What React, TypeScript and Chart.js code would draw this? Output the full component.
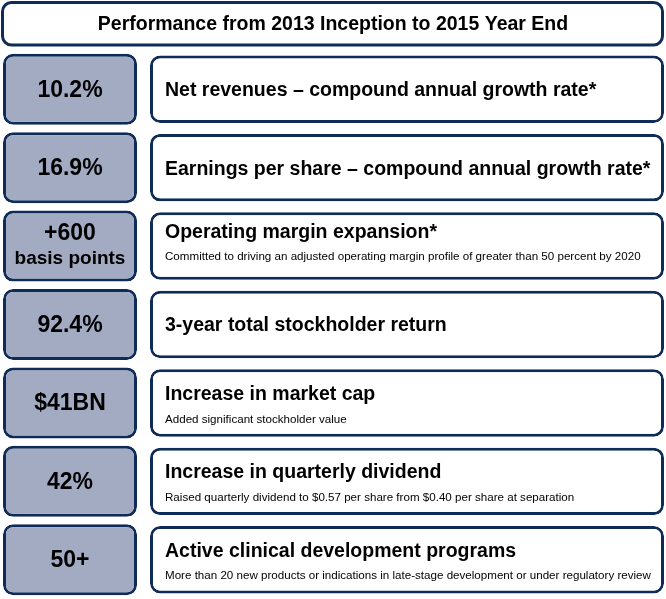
import React, { useEffect, useRef } from 'react';
import { Chart, registerables } from 'chart.js';

Chart.register(...registerables);

const TITLE = 'Performance from 2013 Inception to 2015 Year End';
const METRICS = ['10.2%', '16.9%', '+600', '92.4%', '$41BN', '42%', '50+'];
const METRIC_UNITS = ['', '', 'basis points', '', '', '', ''];
const HEADINGS = [
  'Net revenues – compound annual growth rate*',
  'Earnings per share – compound annual growth rate*',
  'Operating margin expansion*',
  '3-year total stockholder return',
  'Increase in market cap',
  'Increase in quarterly dividend',
  'Active clinical development programs',
];
const DETAILS = [
  '',
  '',
  'Committed to driving an adjusted operating margin profile of greater than 50 percent by 2020',
  '',
  'Added significant stockholder value',
  'Raised quarterly dividend to $0.57 per share from $0.40 per share at separation',
  'More than 20 new products or indications in late-stage development or under regulatory review',
];
// column extents on the (hidden) horizontal axis
const VALUE_COLUMN = [3, 137];
const TEXT_COLUMN = [150, 664];

const FONT = '"Liberation Sans", Arial, Helvetica, sans-serif';
const NAVY = '#0f2c58';
const SLATE = '#a3abc3';

const infoPlugin = {
  id: 'infoText',
  beforeDraw(chart: any) {
    const ctx = chart.ctx;
    ctx.save();
    ctx.fillStyle = '#ffffff';
    ctx.fillRect(0, 0, chart.width, chart.height);
    // title frame
    const xs = chart.scales.x;
    const left = xs.getPixelForValue(1) + 1.5;
    const right = xs.getPixelForValue(664) - 1.5;
    const top = chart.titleBlock.top + 2.5;
    const bottom = chart.chartArea.top - 5;
    ctx.beginPath();
    ctx.roundRect(left, top, right - left, bottom - top, 9);
    ctx.lineWidth = 3;
    ctx.strokeStyle = NAVY;
    ctx.stroke();
    ctx.restore();
  },
  afterDatasetsDraw(chart: any) {
    const ctx = chart.ctx;
    const xs = chart.scales.x;
    const ys = chart.scales.y;
    ctx.save();
    ctx.fillStyle = '#000000';
    ctx.textBaseline = 'middle';
    const vx = (xs.getPixelForValue(VALUE_COLUMN[0]) + xs.getPixelForValue(VALUE_COLUMN[1])) / 2;
    const tx = xs.getPixelForValue(TEXT_COLUMN[0]) + 15;
    METRICS.forEach((m, i) => {
      const cy = ys.getPixelForValue(i);
      ctx.textAlign = 'center';
      if (METRIC_UNITS[i]) {
        ctx.font = `bold 23px ${FONT}`;
        ctx.fillText(m, vx, cy - 12.5);
        ctx.font = `bold 19px ${FONT}`;
        ctx.fillText(METRIC_UNITS[i], vx, cy + 12.5);
      } else {
        ctx.font = `bold 23px ${FONT}`;
        ctx.fillText(m, vx, cy + 1);
      }
      ctx.textAlign = 'left';
      if (DETAILS[i]) {
        const tight = !!METRIC_UNITS[i];
        ctx.font = `bold 19.5px ${FONT}`;
        ctx.fillText(HEADINGS[i], tx, cy + (tight ? -13 : -8.5));
        ctx.font = `11.6px ${FONT}`;
        ctx.fillText(DETAILS[i], tx, cy + (tight ? 11 : 16.5));
      } else {
        ctx.font = `bold 19.5px ${FONT}`;
        ctx.fillText(HEADINGS[i], tx, cy + 1.5);
      }
    });
    ctx.restore();
  },
};

export default function App() {
  const ref = useRef<HTMLCanvasElement | null>(null);
  useEffect(() => {
    if (!ref.current) return;
    const chart = new Chart(ref.current, {
      type: 'bar',
      data: {
        labels: HEADINGS,
        datasets: [
          {
            label: 'Metric',
            data: METRICS.map(() => VALUE_COLUMN as any),
            backgroundColor: SLATE,
            borderColor: NAVY,
            borderWidth: 3,
            borderRadius: 10,
            borderSkipped: false,
            barPercentage: 0.905,
            categoryPercentage: 1,
            grouped: false,
          } as any,
          {
            label: 'Description',
            data: HEADINGS.map(() => TEXT_COLUMN as any),
            backgroundColor: '#ffffff',
            borderColor: NAVY,
            borderWidth: 3,
            borderRadius: 10,
            borderSkipped: false,
            barPercentage: 0.86,
            categoryPercentage: 1,
            grouped: false,
          } as any,
        ],
      },
      options: {
        indexAxis: 'y',
        animation: false,
        responsive: false,
        layout: { padding: 0 },
        scales: {
          x: { type: 'linear', min: 0, max: 666, display: false },
          y: { type: 'category', display: false, offset: true, grid: { display: false } },
        },
        plugins: {
          legend: { display: false },
          tooltip: { enabled: false },
          title: {
            display: true,
            text: TITLE,
            color: '#000000',
            font: { family: FONT, size: 19.5, weight: 'bold', lineHeight: 1.2 },
            padding: { top: 13.3, bottom: 13.3 },
          },
        },
      },
      plugins: [infoPlugin],
    });
    return () => chart.destroy();
  }, []);
  return (
    <div style={{ position: 'absolute', left: 0, top: 0, width: 666, height: 599 }}>
      <canvas ref={ref} width={666} height={599} />
    </div>
  );
}
